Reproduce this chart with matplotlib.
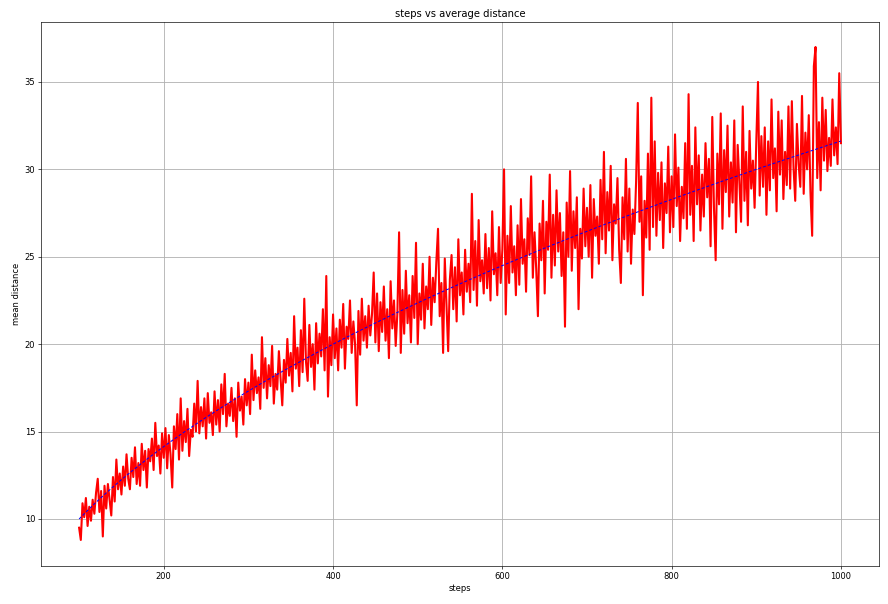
import numpy as np
import matplotlib
matplotlib.use("Agg")
import matplotlib.pyplot as plt

steps = list(range(100, 1001, 2))
mean_distance = [
    9.5, 8.8, 10.9, 10.1, 11.2, 9.6, 10.7, 9.9, 11.1, 10.3,
    11.5, 12.3, 10.4, 11.6, 9.0, 11.9, 10.6, 12.0, 11.1, 10.2,
    12.4, 11.0, 13.4, 11.7, 12.6, 11.4, 13.0, 11.9, 13.7, 12.3,
    11.7, 13.5, 12.4, 14.1, 12.0, 13.2, 11.9, 14.3, 12.8, 13.9,
    11.8, 14.0, 13.3, 14.6, 12.8, 15.5, 13.6, 14.2, 12.6, 14.9,
    13.5, 15.2, 12.9, 14.8, 13.7, 11.8, 15.3, 14.0, 16.0, 13.4,
    16.9, 13.9, 15.6, 14.4, 16.3, 13.6, 15.1, 14.7, 16.6, 15.0,
    17.9, 14.9, 16.4, 15.3, 16.9, 14.6, 17.2, 15.5, 16.1, 14.8,
    17.3, 15.4, 16.8, 15.0, 17.7, 16.0, 18.3, 15.3, 16.6, 15.9,
    17.5, 15.6, 16.9, 14.7, 17.8, 16.2, 17.0, 15.4, 18.0, 16.5,
    17.8, 16.0, 19.4, 16.8, 18.5, 17.2, 18.1, 16.3, 20.4, 17.5,
    19.2, 16.9, 18.8, 17.6, 19.9, 16.6, 18.3, 17.4, 19.6, 18.0,
    16.5, 19.1, 17.8, 20.3, 18.2, 19.5, 17.3, 21.6, 18.6, 19.8,
    17.6, 20.8, 18.4, 22.6, 19.0, 17.9, 21.1, 18.7, 20.0, 17.4,
    21.2, 18.9, 20.6, 19.3, 22.0, 18.5, 23.9, 17.0, 20.4, 18.8,
    21.7, 19.2, 20.9, 18.5, 21.4, 19.8, 22.3, 18.6, 21.0, 20.3,
    22.5, 19.5, 21.3, 20.0, 16.5, 21.9, 19.4, 22.6, 20.2, 21.6,
    19.8, 22.2, 20.5, 21.7, 24.1, 20.1, 22.9, 19.6, 22.4, 20.7,
    23.3, 20.2, 22.0, 19.2, 23.6, 20.9, 22.5, 19.9, 21.8, 26.4,
    19.5, 23.1, 20.6, 24.2, 21.2, 22.8, 20.1, 23.9, 21.5, 25.8,
    20.0, 22.9, 21.4, 24.6, 20.9, 23.3, 22.0, 25.0, 21.1, 23.8,
    22.4, 24.7, 26.6, 21.6, 23.5, 19.5, 24.9, 22.2, 19.6, 23.7,
    25.1, 22.0, 24.4, 21.3, 26.0, 22.8, 24.1, 21.7, 25.4, 23.0,
    24.6, 22.4, 28.6, 23.1, 25.9, 22.2, 27.1, 23.6, 24.8, 22.9,
    26.3, 23.2, 25.5, 22.5, 27.6, 24.0, 25.2, 22.8, 26.7, 23.5,
    25.4, 30.0, 21.7, 26.2, 23.5, 27.9, 24.1, 25.6, 22.8, 26.8,
    23.4, 28.3, 24.6, 26.0, 23.0, 27.2, 25.1, 29.6, 23.8, 26.4,
    24.3, 21.6, 26.9, 24.8, 28.2, 22.9, 27.0, 25.4, 29.7, 23.8,
    27.4, 24.5, 28.8, 25.3, 27.5, 23.9, 26.4, 21.0, 28.1, 25.0,
    29.9, 24.2, 27.6, 25.5, 28.4, 22.0, 26.6, 24.9, 28.9, 25.6,
    27.8, 25.0, 29.1, 23.8, 28.3, 26.2, 27.3, 24.6, 29.4, 26.0,
    31.0, 25.2, 28.7, 26.5, 30.2, 24.8, 28.0, 26.9, 29.5, 25.4,
    23.5, 28.4, 26.0, 30.6, 25.3, 28.9, 24.6, 27.7, 26.3, 29.3,
    33.8, 27.0, 29.6, 22.8, 28.2, 26.1, 30.9, 25.4, 34.1, 26.7,
    31.6, 26.2, 29.8, 27.1, 30.4, 25.5, 29.2, 27.5, 31.3, 26.4,
    29.6, 26.7, 32.0, 27.9, 30.1, 25.9, 29.0, 27.2, 31.5, 26.6,
    34.3, 27.4, 30.2, 25.9, 32.4, 28.0, 30.8, 26.5, 29.7, 27.3,
    31.5, 28.4, 30.6, 25.6, 33.0, 27.8, 24.8, 30.9, 28.0, 33.2,
    26.6, 31.1, 28.7, 32.5, 27.3, 30.4, 28.1, 32.8, 26.4, 31.4,
    29.3, 27.0, 33.6, 28.2, 31.0, 26.8, 32.2, 28.9, 30.5, 27.8,
    31.6, 35.0, 28.5, 31.9, 29.0, 32.4, 27.4, 31.6, 28.8, 34.0,
    29.5, 31.2, 27.6, 33.3, 29.7, 32.8, 28.3, 31.0, 29.1, 33.6,
    28.9, 33.9, 30.1, 28.2, 32.6, 30.3, 29.0, 34.2, 28.6, 32.1,
    30.0, 33.1, 28.7, 26.2, 35.9, 37.0, 29.5, 32.7, 28.8, 34.1,
    30.5, 33.4, 29.9, 31.8, 30.2, 34.0, 30.8, 32.4, 30.3, 35.5,
    31.5,
]

fit_steps = np.arange(100, 1001)
fit_values = np.sqrt(fit_steps)

fig = plt.figure(figsize=(888 / 60, 604 / 60), dpi=60)
ax = fig.add_axes([0.0462, 0.0629, 0.9437, 0.9007])
ax.plot(steps, mean_distance, color="red", lw=2.5, zorder=2)
ax.plot(fit_steps, fit_values, color="blue", lw=1.2, ls=(0, (3, 2)), zorder=3)
ax.set_xlim(55, 1045)
ax.set_ylim(7.31, 38.43)
ax.set_xticks([200, 400, 600, 800, 1000])
ax.set_yticks([10, 15, 20, 25, 30, 35])
ax.grid(True, color="#b0b0b0", lw=1.0)
ax.set_axisbelow(True)
ax.set_title("steps vs average distance", fontsize=12)
ax.set_xlabel("steps", fontsize=10)
ax.set_ylabel("mean distance", fontsize=10)
ax.tick_params(labelsize=10)
fig.savefig("out.png", dpi=60)
